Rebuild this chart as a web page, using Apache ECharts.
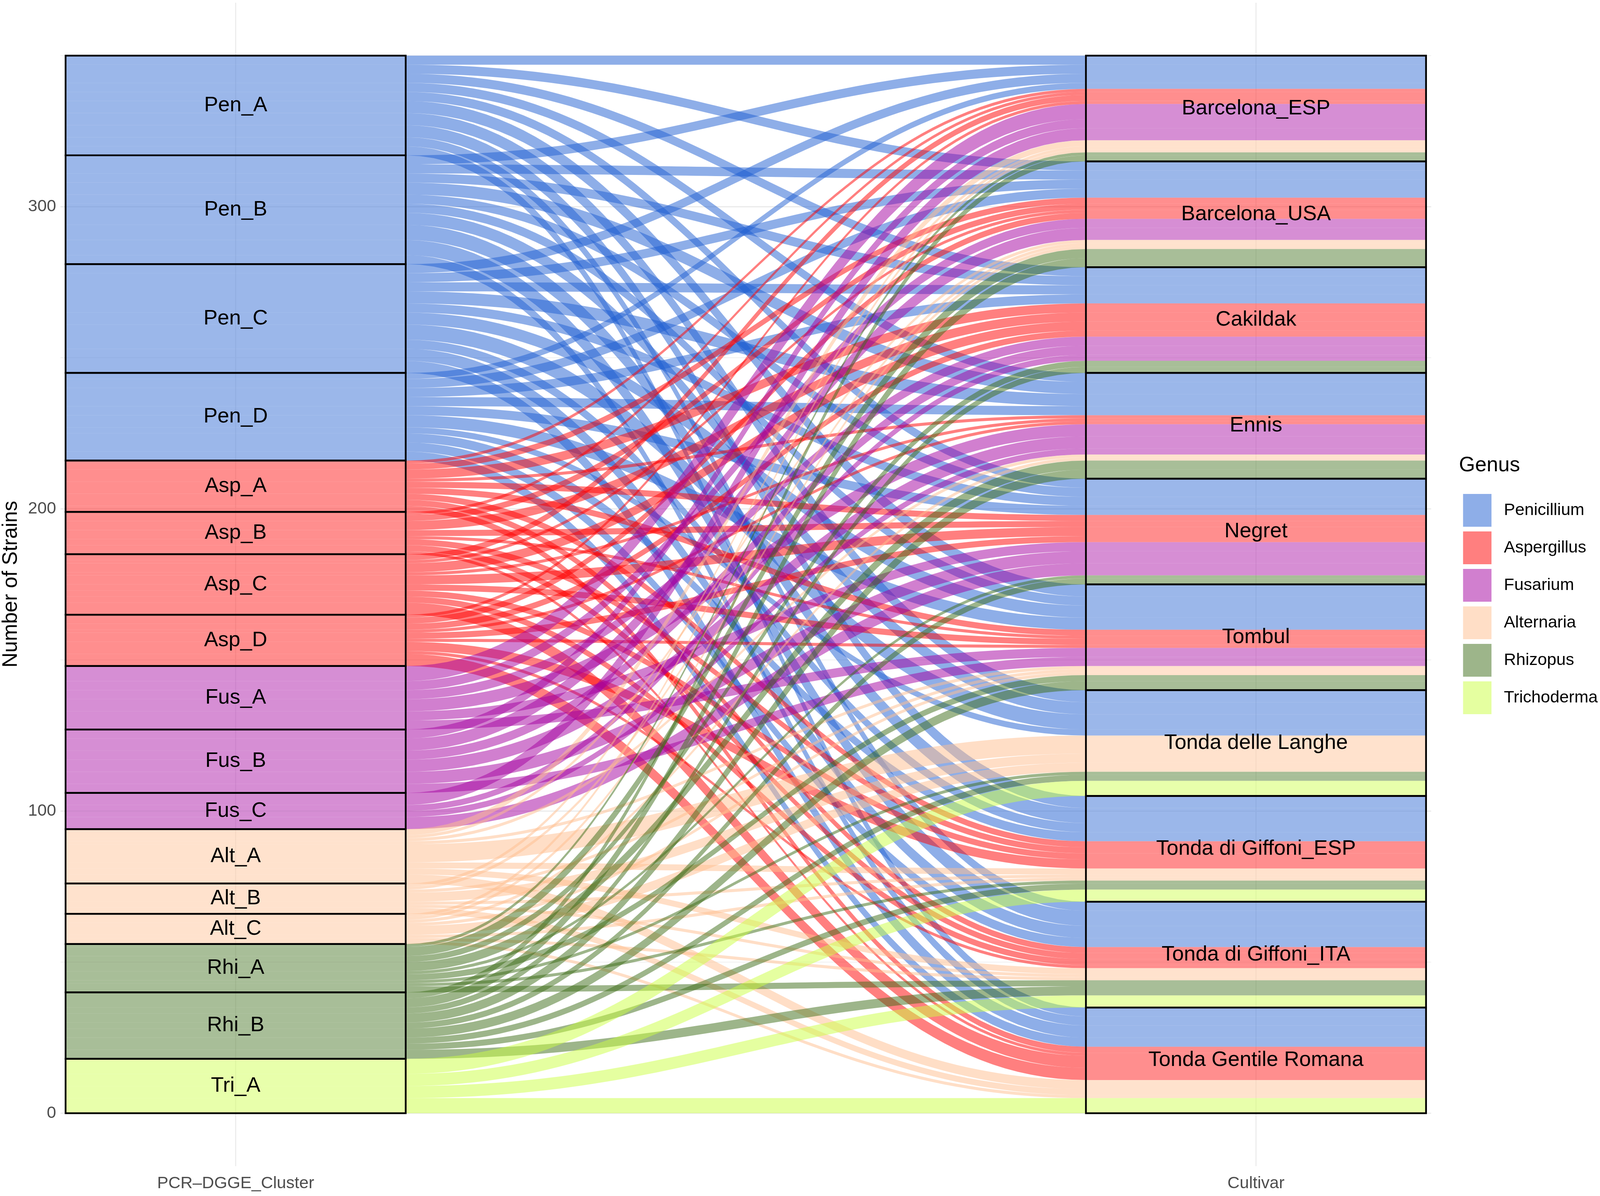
<!DOCTYPE html>
<html><head><meta charset="utf-8">
<script src="https://cdn.jsdelivr.net/npm/echarts@6/dist/echarts.min.js"></script>
<style>html,body{margin:0;padding:0;background:#fff;overflow:hidden}#c{width:100vw;height:100vh}</style>
</head><body><div id="c"></div>
<script>
// ---------- data ----------
const genera = ['Penicillium','Aspergillus','Fusarium','Alternaria','Rhizopus','Trichoderma'];
const genusColors = ['rgba(29,93,209,0.5)','rgba(255,0,0,0.5)','rgba(163,0,160,0.5)','rgba(255,189,141,0.5)','rgba(59,107,21,0.5)','rgba(203,255,65,0.5)'];
const clusters = ['Pen_A','Pen_B','Pen_C','Pen_D','Asp_A','Asp_B','Asp_C','Asp_D','Fus_A','Fus_B','Fus_C','Alt_A','Alt_B','Alt_C','Rhi_A','Rhi_B','Tri_A'];
const clusterGenus = [0,0,0,0,1,1,1,1,2,2,2,3,3,3,4,4,5];
const cultivars = ['Barcelona_ESP','Barcelona_USA','Cakildak','Ennis','Negret','Tombul','Tonda delle Langhe','Tonda di Giffoni_ESP','Tonda di Giffoni_ITA','Tonda Gentile Romana'];
// strains of each cluster found in each cultivar (same order as cultivars)
const Pen_A = [3,3,3,3,3,4,4,4,3,3];
const Pen_B = [3,3,3,4,3,3,4,5,5,3];
const Pen_C = [3,3,3,4,3,4,5,3,4,4];
const Pen_D = [2,3,3,3,3,4,2,3,3,3];
const Asp_A = [1,2,3,1,2,2,0,2,2,2];
const Asp_B = [1,2,3,0,2,1,0,2,2,1];
const Asp_C = [2,1,3,1,3,2,0,2,2,4];
const Asp_D = [1,2,2,1,2,1,0,3,1,4];
const Fus_A = [5,3,3,4,3,3,0,0,0,0];
const Fus_B = [3,4,3,4,4,3,0,0,0,0];
const Fus_C = [4,0,2,2,4,0,0,0,0,0];
const Alt_A = [2,1,0,1,0,1,6,2,2,3];
const Alt_B = [1,1,0,0,0,1,3,1,1,2];
const Alt_C = [1,1,0,1,0,1,3,1,1,1];
const Rhi_A = [1,3,2,3,1,2,1,1,2,0];
const Rhi_B = [2,3,2,3,2,3,2,2,3,0];
const Tri_A = [0,0,0,0,0,0,5,4,4,5];
const flowRows = [Pen_A,Pen_B,Pen_C,Pen_D,Asp_A,Asp_B,Asp_C,Asp_D,Fus_A,Fus_B,Fus_C,Alt_A,Alt_B,Alt_C,Rhi_A,Rhi_B,Tri_A];
const axisNames = ['PCR\u2013DGGE_Cluster','Cultivar'];
const yTicks = [0,100,200,300];
const yMinor = [50,150,250,350];

// ---------- layout (reference is 4562 x 3063) ----------
const Sx = window.innerWidth/4562, Sy = window.innerHeight/3063;
const X = v => v*Sx, Y = v => v*Sy, F = v => v*Sx;
const fontFamily = "'Liberation Sans', Arial, Helvetica, sans-serif";
const total = flowRows.reduce((s,r)=>s+r.reduce((a,b)=>a+b,0),0);
const clusterTot = flowRows.map(r=>r.reduce((a,b)=>a+b,0));
const cultTot = cultivars.map((c,j)=>flowRows.reduce((s,r)=>s+r[j],0));

const strata = [];
let off = total;
clusters.forEach((c,i)=>{ strata.push([1, off, off-clusterTot[i], i, 0]); off -= clusterTot[i]; });
off = total;
cultivars.forEach((c,j)=>{ strata.push([2, off, off-cultTot[j], j, 1]); off -= cultTot[j]; });

const leftPos = flowRows.map(()=>[]);
off = total;
flowRows.forEach((r,i)=>{ r.forEach((n,j)=>{ leftPos[i][j]=[off, off-n]; off -= n; }); });
const rightPos = flowRows.map(()=>[]);
off = total;
cultivars.forEach((c,j)=>{ flowRows.forEach((r,i)=>{ rightPos[i][j]=[off, off-r[j]]; off -= r[j]; }); });

const flowData = genera.map(()=>[]);
flowRows.forEach((r,i)=>{ r.forEach((n,j)=>{ if(n>0){ flowData[clusterGenus[i]].push([leftPos[i][j][0],leftPos[i][j][1],rightPos[i][j][0],rightPos[i][j][1]]); } }); });

const XL0=5/6, XL1=7/6, XR0=11/6, XR1=13/6, BEND=0.42, NSEG=60;
function bez(p0,p1,p2,p3,t){const u=1-t;return u*u*u*p0+3*u*u*t*p1+3*u*t*t*p2+t*t*t*p3;}
function edgePts(yl,yr){
  const g = XR0-XL1; const pts=[[XL0,yl]];
  for(let k=0;k<=NSEG;k++){const t=k/NSEG; pts.push([bez(XL1,XL1+BEND*g,XR0-BEND*g,XR0,t), bez(yl,yl,yr,yr,t)]);}
  pts.push([XR1,yr]); return pts;
}

const flowSeries = genera.map((g,gi)=>({
  type:'custom', name:g, coordinateSystem:'cartesian2d', z:2, clip:false,
  itemStyle:{color:genusColors[gi]},
  data: flowData[gi],
  renderItem:(params,api)=>{
    const lt=api.value(0), lb=api.value(1), rt=api.value(2), rb=api.value(3);
    const top = edgePts(lt,rt), bot = edgePts(lb,rb).reverse();
    const pts = top.concat(bot).map(p=>api.coord(p));
    return {type:'polygon', shape:{points:pts}, style:{fill:genusColors[gi]}};
  }
}));

const gridData = [];
yTicks.forEach(v=>gridData.push([0,v]));
yMinor.forEach(v=>gridData.push([1,v]));
[1,2].forEach(v=>gridData.push([2,v]));
const gridSeries = {
  type:'custom', name:'grid', z:0, clip:false, silent:true, data:gridData,
  renderItem:(params,api)=>{
    const k=api.value(0), v=api.value(1);
    let a,b,w;
    if(k===2){ a=api.coord([v,-17.5]); b=api.coord([v,367.5]); w=X(3); }
    else { a=api.coord([XL0-0.005,v]); b=api.coord([XR1+0.005,v]); w = k===0?Y(3):Y(1.5); }
    return {type:'line', shape:{x1:a[0],y1:a[1],x2:b[0],y2:b[1]}, style:{stroke:'#EBEBEB', lineWidth:w}};
  }
};

const strataSeries = {
  type:'custom', name:'strata', z:3, clip:false, silent:true, data:strata,
  renderItem:(params,api)=>{
    const xc=api.value(0), top=api.value(1), bot=api.value(2), idx=api.value(3), side=api.value(4);
    const p1=api.coord([xc-1/6,top]), p2=api.coord([xc+1/6,bot]);
    const name = side===0 ? clusters[idx] : cultivars[idx];
    return {type:'group', children:[
      {type:'rect', shape:{x:p1[0],y:p1[1],width:p2[0]-p1[0],height:p2[1]-p1[1]}, style:{fill:'rgba(255,255,255,0.12)', stroke:'#000', lineWidth:F(5)}},
      {type:'text', z2:10, style:{x:(p1[0]+p2[0])/2, y:(p1[1]+p2[1])/2, text:name, fontSize:F(60), fontFamily:fontFamily, fill:'#000', align:'center', verticalAlign:'middle'}}
    ]};
  }
};

const chart = echarts.init(document.getElementById('c'), null, {renderer:'canvas'});
chart.setOption({
  backgroundColor:'#ffffff',
  animation:false,
  grid:{left:X(187), right:X(496), top:Y(142.5), bottom:Y(212), containLabel:false},
  xAxis:{type:'value', min:XL0, max:XR1,
    axisLine:{show:false}, axisTick:{show:false}, splitLine:{show:false},
    axisLabel:{customValues:[1,2], formatter:(v)=>axisNames[Math.round(v)-1]||'', fontSize:F(48), fontFamily:fontFamily, color:'#4D4D4D', margin:Y(159)}},
  yAxis:{type:'value', min:0, max:350, interval:50,
    axisLine:{show:false}, axisTick:{show:false}, splitLine:{show:false},
    axisLabel:{formatter:(v)=>yTicks.includes(v)?String(v):'', fontSize:F(48), fontFamily:fontFamily, color:'#4D4D4D', margin:X(27)}},
  legend:{data:genera, orient:'vertical', left:X(4166), top:Y(1260), itemWidth:X(81), itemHeight:Y(84), itemGap:Y(12), icon:'rect', selectedMode:false,
    textStyle:{fontSize:F(48), fontFamily:fontFamily, color:'#000', padding:[0,0,0,X(30)]}},
  graphic:[
    {type:'text', left:X(4160), top:Y(1166), style:{text:'Genus', fontSize:F(59), fontFamily:fontFamily, fill:'#000'}},
    {type:'text', x:X(32), y:Y(1496), rotation:Math.PI/2, style:{text:'Number of Strains', fontSize:F(59), fontFamily:fontFamily, fill:'#000', align:'center', verticalAlign:'middle'}}
  ],
  series:[gridSeries].concat(flowSeries).concat([strataSeries])
});
</script></body></html>
